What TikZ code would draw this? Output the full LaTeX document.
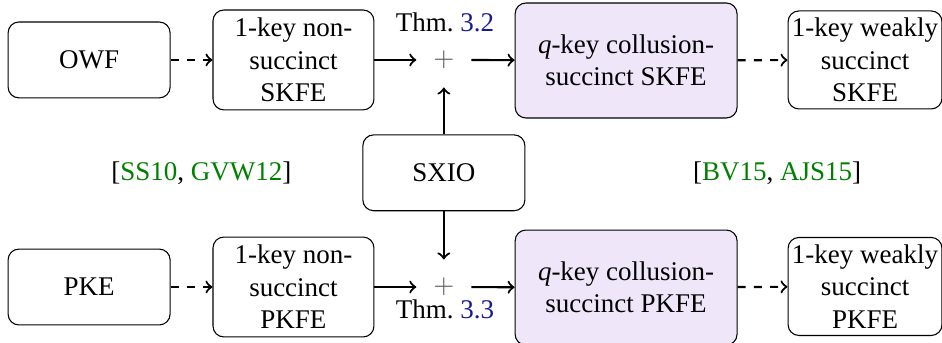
\documentclass[tikz,border=0pt]{standalone}
\usepackage{fontspec}
\setmainfont{Liberation Serif}
\usetikzlibrary{positioning}
\definecolor{lavender}{RGB}{240,230,250}
\definecolor{thmblue}{rgb}{0.1,0.1,0.6}
\definecolor{citegreen}{rgb}{0,0.5,0}
\tikzset{>=to,
  box/.style={draw, rounded corners=4pt, align=center, inner sep=1pt},
  qbox/.style={box, fill=lavender},
  plusnode/.style={minimum size=20pt, inner sep=0pt, text=black!65},
  link/.style={thick, ->},
  weak/.style={thick, dashed, ->}}

\begin{document}
\begin{tikzpicture}[x=1pt, y=1pt]
    \useasboundingbox (0,0) rectangle (348.9,127);
    % upper row: secret-key
    \node[box, minimum width=60pt, minimum height=28.1pt] (owf) at (33,104.8) {OWF};
    \node[box, minimum width=59.6pt, minimum height=37pt] (skfe1) at (108.7,104.8) {1-key non-\\succinct\\SKFE};
    \node[plusnode] (plusS) at (164.4,104.8) {$+$};
    \node[qbox, minimum width=82.2pt, minimum height=42.6pt] (skfeq) at (231.9,104.6) {\textit{q}-key collusion-\\succinct SKFE};
    \node[box, minimum width=57pt, minimum height=36.3pt] (skfew) at (320.4,104.8) {1-key weakly\\succinct\\SKFE};
    \node (thmS) at (164.8,118.9) {Thm.~\textcolor{thmblue}{3.2}};
    % middle
    \node[box, minimum width=60pt, minimum height=28.1pt] (sxio) at (164.4,63) {SXIO};
    \node (citeL) at (74.6,63) {[\textcolor{citegreen}{SS10}, \textcolor{citegreen}{GVW12}]};
    \node (citeR) at (287.8,63) {[\textcolor{citegreen}{BV15}, \textcolor{citegreen}{AJS15}]};
    % lower row: public-key
    \node[box, minimum width=60pt, minimum height=28.1pt] (pke) at (33,20.7) {PKE};
    \node[box, minimum width=59.6pt, minimum height=37pt] (pkfe1) at (108.7,20.7) {1-key non-\\succinct\\PKFE};
    \node[plusnode] (plusP) at (164.4,20.7) {$+$};
    \node[qbox, minimum width=82.2pt, minimum height=42.6pt] (pkfeq) at (231.9,20.5) {\textit{q}-key collusion-\\succinct PKFE};
    \node[box, minimum width=57pt, minimum height=36.3pt] (pkfew) at (320.4,20.9) {1-key weakly\\succinct\\PKFE};
    \node (thmP) at (164.8,12.6) {Thm.~\textcolor{thmblue}{3.3}};
    % arrows
    \draw[weak] (owf) -- (skfe1);
    \draw[link] (skfe1) -- (plusS);
    \draw[link] (plusS) -- (skfeq);
    \draw[weak] (skfeq) -- (skfew);
    \draw[weak] (pke) -- (pkfe1);
    \draw[link] (pkfe1) -- (plusP);
    \draw[link] (plusP) -- (pkfeq);
    \draw[weak] (pkfeq) -- (pkfew);
    \draw[link] (sxio) -- (plusS);
    \draw[link] (sxio) -- (plusP);
\end{tikzpicture}
\end{document}
